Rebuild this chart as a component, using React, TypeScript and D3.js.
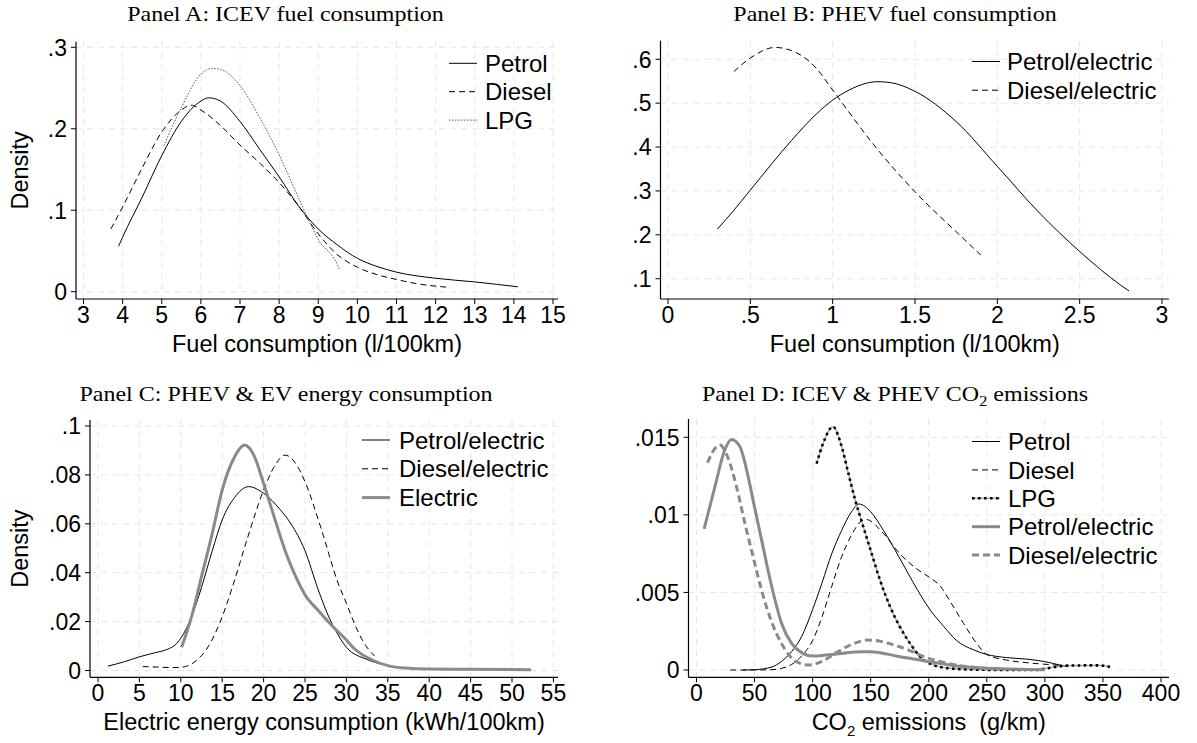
import React from "react";
import * as d3 from "d3";

type Pt = [number, number];

// ---------- Panel A: ICEV fuel consumption ----------
const aPetrol: Pt[] = [[3.9,0.056],[4.0,0.067],[4.5,0.116],[5.0,0.167],[5.5,0.209],[6.0,0.234],[6.2,0.238],[6.5,0.234],[7.0,0.209],[7.5,0.175],[8.0,0.141],[8.5,0.105],[9.0,0.077],[9.5,0.057],[10.0,0.041],[10.5,0.031],[11.0,0.024],[12.0,0.0165],[13.0,0.012],[14.1,0.006]];
const aDiesel: Pt[] = [[3.7,0.077],[4.0,0.104],[4.5,0.152],[5.0,0.196],[5.5,0.223],[5.75,0.229],[6.0,0.223],[6.5,0.204],[7.0,0.18],[7.5,0.158],[8.0,0.134],[8.5,0.105],[9.0,0.071],[9.5,0.045],[10.0,0.030],[10.5,0.021],[11.0,0.015],[11.5,0.010],[12.3,0.0055]];
const aLpg: Pt[] = [[5.05,0.179],[5.5,0.226],[6.0,0.267],[6.3,0.274],[6.5,0.273],[7.0,0.253],[7.5,0.214],[8.0,0.168],[8.5,0.115],[9.0,0.064],[9.5,0.032],[9.55,0.026]];
const aXTicks = [3,4,5,6,7,8,9,10,11,12,13,14,15];
const aYTicks = [0,0.1,0.2,0.3];
const aYLabels = ["0",".1",".2",".3"];

// ---------- Panel B: PHEV fuel consumption ----------
const bPetrolElec: Pt[] = [[0.3,0.213],[0.4,0.256],[0.5,0.302],[0.75,0.415],[0.9,0.475],[1.0,0.507],[1.1,0.53],[1.2,0.545],[1.27,0.549],[1.35,0.547],[1.5,0.527],[1.75,0.458],[2.0,0.356],[2.25,0.252],[2.5,0.162],[2.75,0.085],[2.8,0.072]];
const bDieselElec: Pt[] = [[0.4,0.572],[0.5,0.603],[0.65,0.627],[0.75,0.62],[0.9,0.58],[1.0,0.53],[1.25,0.405],[1.5,0.298],[1.75,0.207],[1.9,0.154]];
const bXTicks = [0,0.5,1,1.5,2,2.5,3];
const bXLabels = ["0",".5","1","1.5","2","2.5","3"];
const bYTicks = [0.1,0.2,0.3,0.4,0.5,0.6];
const bYLabels = [".1",".2",".3",".4",".5",".6"];

// ---------- Panel C: PHEV & EV energy consumption ----------
const cPetrolElec: Pt[] = [[1.2,0.0018],[3.2,0.0036],[5.0,0.0056],[6.8,0.0072],[8.4,0.0087],[9.3,0.0104],[10,0.0132],[11.3,0.022],[12.5,0.034],[13.8,0.049],[15,0.0616],[16.5,0.0708],[18.2,0.0752],[20,0.0725],[22,0.0658],[23.3,0.060],[25,0.049],[26.6,0.033],[28,0.021],[28.6,0.017],[30,0.0095],[32.5,0.0045],[35,0.002],[38,0.0008],[42,0.0004]];
const cDieselElec: Pt[] = [[5.4,0.0016],[7.2,0.0014],[9,0.0012],[10,0.0013],[11.7,0.0036],[13.3,0.0097],[15,0.022],[16.5,0.037],[18.1,0.0547],[20,0.0738],[21.4,0.084],[22.6,0.0881],[24,0.084],[25,0.0772],[27,0.0575],[29,0.0357],[30,0.0275],[31,0.019],[32,0.012],[33.4,0.0059]];
const cElectric: Pt[] = [[10.1,0.0095],[11.3,0.022],[12.5,0.0384],[13.8,0.0561],[15,0.0738],[16.5,0.0874],[17.7,0.0922],[18.9,0.0875],[20,0.0765],[21.4,0.0615],[22.6,0.049],[23.8,0.039],[25,0.031],[26.6,0.0245],[28.2,0.0185],[30,0.0125],[31,0.0088],[33,0.0045],[35,0.002],[37,0.001],[40,0.0006],[45,0.0005],[52.3,0.0003]];
const cXTicks = [0,5,10,15,20,25,30,35,40,45,50,55];
const cYTicks = [0,0.02,0.04,0.06,0.08,0.1];
const cYLabels = ["0",".02",".04",".06",".08",".1"];

// ---------- Panel D: ICEV & PHEV CO2 emissions ----------
const dPetrol: Pt[] = [[40,0],[50,0.00002],[65,0.0002],[73,0.00054],[82,0.0012],[90.5,0.00215],[100,0.0039],[108,0.0056],[116.5,0.0075],[125,0.009],[133.5,0.0102],[140,0.0107],[150,0.0102],[161,0.009],[175,0.0072],[190,0.0052],[200,0.004],[213,0.0028],[224,0.0019],[238.6,0.0013],[250,0.001],[267,0.0008],[284.5,0.0007],[300,0.00054],[313,0.00032],[320,0.00022]];
const dDiesel: Pt[] = [[29,0],[50,0],[65,0.00002],[73,0.0001],[82,0.00036],[90.5,0.0009],[100,0.0019],[108,0.0034],[116.5,0.0054],[125,0.0073],[133.5,0.0087],[142,0.0096],[146,0.0097],[161,0.0088],[175,0.0075],[190,0.0065],[200,0.006],[210,0.0054],[218.6,0.0044],[230,0.003],[241.4,0.0017],[250,0.001],[267,0.00064],[284.5,0.00047],[300,0.00037],[313,0.0003],[320,0.00025]];
const dLpg: Pt[] = [[103.4,0.0133],[109,0.0146],[117.5,0.01568],[125,0.0144],[130.7,0.0127],[136.5,0.0110],[143,0.0094],[150,0.0077],[158,0.0058],[166.6,0.0041],[175,0.0028],[184,0.0017],[192.4,0.00086],[204,0.00032],[218.6,0.0001],[238.6,0.00003],[267,0],[290,0],[301,0.0001],[318,0.00028],[347,0.0003],[356,0.0002]];
const dPetrolElec: Pt[] = [[6.6,0.0091],[15.8,0.0118],[24.4,0.0142],[30.2,0.01486],[37.3,0.0144],[44.5,0.01245],[49.4,0.0107],[56,0.0084],[64.7,0.0054],[73.3,0.003],[82,0.0017],[90.5,0.00112],[100,0.0009],[111,0.00096],[125,0.00107],[142,0.00118],[150,0.00118],[175,0.00086],[200,0.00054],[224,0.00026],[250,0.00011],[300,0.00002]];
const dDieselElec: Pt[] = [[9.5,0.01336],[15.8,0.01428],[20.1,0.0145],[27.3,0.01364],[34.5,0.01181],[41.7,0.00945],[49.4,0.0071],[56,0.00515],[64.7,0.0031],[73.3,0.0017],[84.8,0.0006],[96.3,0.00032],[107.8,0.00054],[119.3,0.00107],[133.6,0.00165],[148,0.00193],[175,0.0015],[200,0.00075],[224,0.00032],[250,0.0001],[265,0.00005]];
const dXTicks = [0,50,100,150,200,250,300,350,400];
const dYTicks = [0,0.005,0.01,0.015];
const dYLabels = ["0",".005",".01",".015"];

type Style = "solid" | "dash" | "dotA" | "graySolid" | "grayDash" | "lpgD";

interface SeriesDef { name: string; data: Pt[]; style: Style; }

interface PanelDef {
  title: React.ReactNode;
  titleX: number; titleY: number;
  frame: { l: number; r: number; t: number; b: number };
  xDom: [number, number]; xPx: [number, number];
  yDom: [number, number]; yPx: [number, number];
  xTicks: number[]; xLabels: string[];
  yTicks: number[]; yLabels: string[];
  xTitle: React.ReactNode; yTitle?: string;
  legend: { lineX: number; textX: number; y0: number; dy: number };
  series: SeriesDef[];
}

const SANS = "'Liberation Sans', Arial, sans-serif";
const SERIF = "'Liberation Serif', 'Times New Roman', serif";
const GRAY = "#8a8a8a";
const TICK_FS = 23;
const TITLE_FS = 23.5;
const LEG_FS = 24;

const styleProps = (s: Style) => {
  switch (s) {
    case "solid": return { stroke: "#000", strokeWidth: 1 };
    case "dash": return { stroke: "#000", strokeWidth: 1, strokeDasharray: "6,4" };
    case "dotA": return { stroke: "#555", strokeWidth: 1, strokeDasharray: "1.5,1.5" };
    case "graySolid": return { stroke: GRAY, strokeWidth: 3 };
    case "grayDash": return { stroke: GRAY, strokeWidth: 3, strokeDasharray: "7,4" };
    case "lpgD": return { stroke: "#000", strokeWidth: 2.6, strokeDasharray: "2.6,3.4" };
  }
};

const StyledPath = ({ d, style }: { d: string; style: Style }) => (
  <g>
    {style === "lpgD" && <path d={d} fill="none" stroke="#9a9a9a" strokeWidth={1.2} />}
    <path d={d} fill="none" {...styleProps(style)} strokeLinejoin="round" />
  </g>
);

const Panel = ({ p }: { p: PanelDef }) => {
  const x = d3.scaleLinear().domain(p.xDom).range(p.xPx);
  const y = d3.scaleLinear().domain(p.yDom).range(p.yPx);
  const line = d3.line<Pt>().x((d) => x(d[0])).y((d) => y(d[1])).curve(d3.curveMonotoneX);
  const f = p.frame;
  const cx = (f.l + f.r) / 2;
  const cy = (f.t + f.b) / 2;
  return (
    <g>
      {p.yTicks.map((t) => (
        <line key={"gy" + t} x1={f.l} x2={f.r} y1={y(t)} y2={y(t)} stroke="#e6e6e6" strokeWidth={1} strokeDasharray="6,5" />
      ))}
      {p.xTicks.map((t) => (
        <line key={"gx" + t} x1={x(t)} x2={x(t)} y1={f.t} y2={f.b} stroke="#e6e6e6" strokeWidth={1} strokeDasharray="6,5" />
      ))}
      {p.series.map((s) => (
        <StyledPath key={s.name} d={line(s.data) || ""} style={s.style} />
      ))}
      <line x1={f.l} x2={f.l} y1={f.t} y2={f.b} stroke="#000" strokeWidth={1.2} />
      <line x1={f.l} x2={f.r} y1={f.b} y2={f.b} stroke="#000" strokeWidth={1.2} />
      {p.xTicks.map((t, i) => (
        <g key={"xt" + t}>
          <line x1={x(t)} x2={x(t)} y1={f.b} y2={f.b + 5} stroke="#000" strokeWidth={1} />
          <text x={x(t)} y={f.b + 24} textAnchor="middle" fontFamily={SANS} fontSize={TICK_FS} fill="#000">{p.xLabels[i]}</text>
        </g>
      ))}
      {p.yTicks.map((t, i) => (
        <g key={"yt" + t}>
          <line x1={f.l - 5} x2={f.l} y1={y(t)} y2={y(t)} stroke="#000" strokeWidth={1} />
          <text x={f.l - 9} y={y(t)} dy="0.36em" textAnchor="end" fontFamily={SANS} fontSize={TICK_FS} fill="#000">{p.yLabels[i]}</text>
        </g>
      ))}
      <text x={cx} y={f.b + 53} textAnchor="middle" fontFamily={SANS} fontSize={TITLE_FS} fill="#000" style={{ whiteSpace: "pre" }}>{p.xTitle}</text>
      {p.yTitle && (
        <text transform={`translate(28,${cy}) rotate(-90)`} textAnchor="middle" fontFamily={SANS} fontSize={TITLE_FS} fill="#000">{p.yTitle}</text>
      )}
      <text transform={`translate(${p.titleX},${p.titleY}) scale(1.2,1)`} textAnchor="middle" fontFamily={SERIF} fontSize={20} fill="#000">{p.title}</text>
      {p.series.map((s, i) => {
        const ly = p.legend.y0 + i * p.legend.dy;
        return (
          <g key={"lg" + s.name}>
            <StyledPath d={`M${p.legend.lineX},${ly}L${p.legend.lineX + 28},${ly}`} style={s.style} />
            <text x={p.legend.textX} y={ly} dy="0.36em" fontFamily={SANS} fontSize={LEG_FS} fill="#000">{s.name}</text>
          </g>
        );
      })}
    </g>
  );
};

const panels: PanelDef[] = [
  {
    title: "Panel A: ICEV fuel consumption", titleX: 285.5, titleY: 20.5,
    frame: { l: 76, r: 558, t: 41.7, b: 299 },
    xDom: [3, 15], xPx: [83.5, 553], yDom: [0, 0.3], yPx: [291.7, 47.3],
    xTicks: aXTicks, xLabels: aXTicks.map(String), yTicks: aYTicks, yLabels: aYLabels,
    xTitle: "Fuel consumption (l/100km)", yTitle: "Density",
    legend: { lineX: 449, textX: 485, y0: 63.3, dy: 28.4 },
    series: [
      { name: "Petrol", data: aPetrol, style: "solid" },
      { name: "Diesel", data: aDiesel, style: "dash" },
      { name: "LPG", data: aLpg, style: "dotA" },
    ],
  },
  {
    title: "Panel B: PHEV fuel consumption", titleX: 895, titleY: 20.5,
    frame: { l: 660.5, r: 1169, t: 40.7, b: 299 },
    xDom: [0, 3], xPx: [668, 1162], yDom: [0.1, 0.6], yPx: [278.7, 59.3],
    xTicks: bXTicks, xLabels: bXLabels, yTicks: bYTicks, yLabels: bYLabels,
    xTitle: "Fuel consumption (l/100km)",
    legend: { lineX: 972, textX: 1007, y0: 61.5, dy: 28.7 },
    series: [
      { name: "Petrol/electric", data: bPetrolElec, style: "solid" },
      { name: "Diesel/electric", data: bDieselElec, style: "dash" },
    ],
  },
  {
    title: "Panel C: PHEV & EV energy consumption", titleX: 286, titleY: 400.5,
    frame: { l: 90, r: 558, t: 420, b: 677.3 },
    xDom: [0, 55], xPx: [98, 553.4], yDom: [0, 0.1], yPx: [670.5, 426],
    xTicks: cXTicks, xLabels: cXTicks.map(String), yTicks: cYTicks, yLabels: cYLabels,
    xTitle: "Electric energy consumption (kWh/100km)", yTitle: "Density",
    legend: { lineX: 362, textX: 399, y0: 440, dy: 28.8 },
    series: [
      { name: "Petrol/electric", data: cPetrolElec, style: "solid" },
      { name: "Diesel/electric", data: cDieselElec, style: "dash" },
      { name: "Electric", data: cElectric, style: "graySolid" },
    ],
  },
  {
    title: (
      <>
        {"Panel D: ICEV & PHEV CO"}
        <tspan dy={5} fontSize={14}>2</tspan>
        <tspan dy={-5}>{" emissions"}</tspan>
      </>
    ),
    titleX: 895, titleY: 400.5,
    frame: { l: 688.5, r: 1169, t: 419, b: 677.3 },
    xDom: [0, 400], xPx: [696.5, 1161], yDom: [0, 0.015], yPx: [670, 437.3],
    xTicks: dXTicks, xLabels: dXTicks.map(String), yTicks: dYTicks, yLabels: dYLabels,
    xTitle: (
      <>
        {"CO"}
        <tspan dy={6} fontSize={15}>2</tspan>
        <tspan dy={-6}>{" emissions  (g/km)"}</tspan>
      </>
    ),
    legend: { lineX: 972, textX: 1008, y0: 441.5, dy: 28.4 },
    series: [
      { name: "Petrol", data: dPetrol, style: "solid" },
      { name: "Diesel", data: dDiesel, style: "dash" },
      { name: "LPG", data: dLpg, style: "lpgD" },
      { name: "Petrol/electric", data: dPetrolElec, style: "graySolid" },
      { name: "Diesel/electric", data: dDieselElec, style: "grayDash" },
    ],
  },
];

export default function App() {
  return (
    <svg
      width={1197}
      height={743}
      viewBox="0 0 1197 743"
      style={{ position: "fixed", left: 0, top: 0, background: "#fff", display: "block" }}
    >
      <rect x={0} y={0} width={1197} height={743} fill="#fff" />
      {panels.map((p, i) => (
        <Panel key={i} p={p} />
      ))}
    </svg>
  );
}
